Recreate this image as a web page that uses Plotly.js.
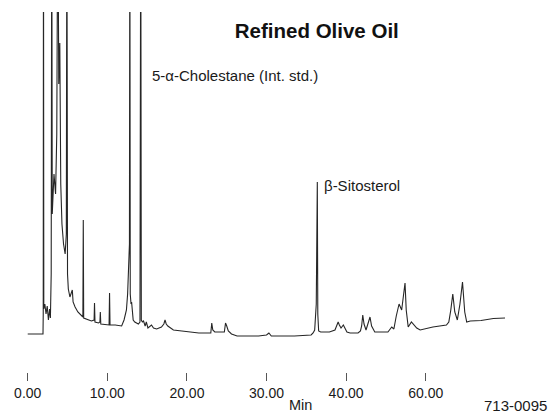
<!DOCTYPE html>
<html>
<head>
<meta charset="utf-8">
<script src="https://cdn.plot.ly/plotly-3.0.1.min.js"></script>
<style>html,body{margin:0;padding:0;background:#fff;}#chart{width:550px;height:414px;}</style>
</head>
<body>
<div id="chart"></div>
<script>
// Retention time (min) and detector response (arbitrary units, clipped peaks exceed the top)
const timeMin = [
  0.00, 1.92, 1.95, 1.98, 2.02, 2.15, 2.30, 2.45, 2.60, 2.75, 2.85, 2.95, 3.02, 3.08,
  3.30, 3.50, 3.65, 3.78, 3.90, 4.03, 4.15, 4.30, 4.50, 4.70, 4.85, 4.92, 5.00, 5.10,
  5.30, 5.60, 5.70, 5.95, 6.30, 6.93, 6.98, 7.03, 7.40, 8.00, 8.34, 8.39, 8.45, 8.90,
  9.07, 9.12, 9.18, 9.80, 10.22, 10.28, 10.34, 11.00, 11.80, 12.10, 12.40, 12.55, 12.68, 12.78,
  12.83, 12.88, 12.98, 13.05, 13.25, 13.45, 13.90, 14.10, 14.20, 14.27, 14.40, 14.55, 14.75, 14.90,
  15.10, 15.55, 15.80, 16.20, 16.80, 17.10, 17.25, 17.40, 17.60, 18.30, 19.90, 21.50, 23.00, 23.12,
  23.25, 23.50, 24.70, 24.85, 25.00, 25.20, 25.60, 26.30, 29.00, 30.00, 30.30, 30.60, 33.50, 35.00,
  35.60, 35.85, 36.05, 36.25, 36.33, 36.38, 36.44, 36.55, 36.80, 37.30, 37.90, 38.60, 38.85, 39.00,
  39.15, 39.36, 39.65, 39.85, 40.10, 40.50, 41.50, 41.80, 41.95, 42.09, 42.25, 42.50, 42.75, 43.00,
  43.20, 43.60, 44.00, 45.25, 45.73, 46.00, 46.30, 46.65, 46.98, 47.15, 47.40, 47.55, 47.80, 48.20,
  48.87, 49.30, 50.90, 52.60, 52.90, 53.15, 53.40, 53.65, 53.97, 54.30, 54.62, 54.90, 55.15, 55.60,
  56.95, 58.50, 59.50, 59.96
];
const response = [
  0, 0, 20, 450, 25, 30, 20, 28, 14, 25, 16, 60, 450, 120,
  160, 140, 200, 450, 250, 291, 150, 110, 90, 80, 100, 450, 60, 45,
  37, 44, 32, 27, 22, 17, 114, 16, 15, 13, 14, 31, 12, 11,
  12, 22, 10, 9, 9, 41, 9, 9, 8, 14, 24, 40, 70, 90,
  450, 40, 30, 32, 14, 12, 10, 12, 450, 14, 12, 13, 8, 12,
  6, 9, 6, 5, 7, 10, 14, 10, 8, 4, 2.5, 1, 1, 11,
  4, 2, 2, 11, 8, 3, 0, -2, -2, -1, 1, -2, -2, -1,
  -1, 1, 4, 30, 90, 152, 20, 3, 2, 2, 2, 4, 9, 12,
  9, 6, 9, 5, 2, 1, 1, 3, 8, 19, 10, 4, 10, 17,
  8, 2, 2, 2, 7, 5, 18, 30, 24, 33, 51, 24, 7, 12,
  6, 4, 7, 9, 12, 24, 40, 22, 14, 30, 52, 22, 12, 13,
  13.5, 15.5, 16, 16
];
const tickValues = [0, 10, 20, 30, 40, 50];
const tickLabels = ['0.00', '10.00', '20.00', '30.00', '40.00', '60.00'];
const chartTitle = 'Refined Olive Oil';
const peakLabels = ['5-\u03b1-Cholestane (Int. std.)', '\u03b2-Sitosterol'];
const peakLabelTimes = [15.3, 37.0];
const peakLabelLevels = [259, 149];

const FONT = 'Liberation Sans, Arial, Helvetica, sans-serif';

const trace = {
  x: timeMin,
  y: response,
  type: 'scatter',
  mode: 'lines',
  line: {color: '#262626', width: 1.1},
  hoverinfo: 'skip'
};

const annotations = peakLabels.map((t, i) => ({
  text: t, x: peakLabelTimes[i], y: peakLabelLevels[i], xref: 'x', yref: 'y',
  xanchor: 'left', yanchor: 'middle', showarrow: false,
  font: {family: FONT, size: 15, color: '#1a1a1a'}
}));
annotations.push({
  text: 'Min', x: 34.3, y: -0.092, xref: 'x', yref: 'paper',
  xanchor: 'center', yanchor: 'middle', showarrow: false,
  font: {family: FONT, size: 14.5, color: '#1a1a1a'}
});
annotations.push({
  text: '713-0095', x: 0.943, y: -0.092, xref: 'paper', yref: 'paper',
  xanchor: 'center', yanchor: 'middle', showarrow: false,
  font: {family: FONT, size: 15, color: '#1a1a1a'}
});

const layout = {
  width: 550, height: 414,
  margin: {l: 4, r: 4, t: 12, b: 42},
  paper_bgcolor: '#ffffff', plot_bgcolor: '#ffffff',
  showlegend: false,
  title: {
    text: '<b>' + chartTitle + '</b>',
    x: 0.576, xref: 'container', xanchor: 'center',
    y: 0.925, yref: 'container', yanchor: 'middle',
    font: {family: FONT, size: 20.5, color: '#111'}
  },
  xaxis: {
    range: [-2.98, 65.11],
    showgrid: false, zeroline: false, showline: false,
    ticks: 'outside', ticklen: 8, tickwidth: 1, tickcolor: '#555',
    tickvals: tickValues, ticktext: tickLabels,
    tickfont: {family: FONT, size: 14, color: '#1a1a1a'},
    fixedrange: true
  },
  yaxis: {
    range: [-38, 322],
    visible: false, showgrid: false, zeroline: false,
    fixedrange: true
  },
  annotations: annotations
};

Plotly.newPlot('chart', [trace], layout, {displayModeBar: false, staticPlot: true});
</script>
</body>
</html>
